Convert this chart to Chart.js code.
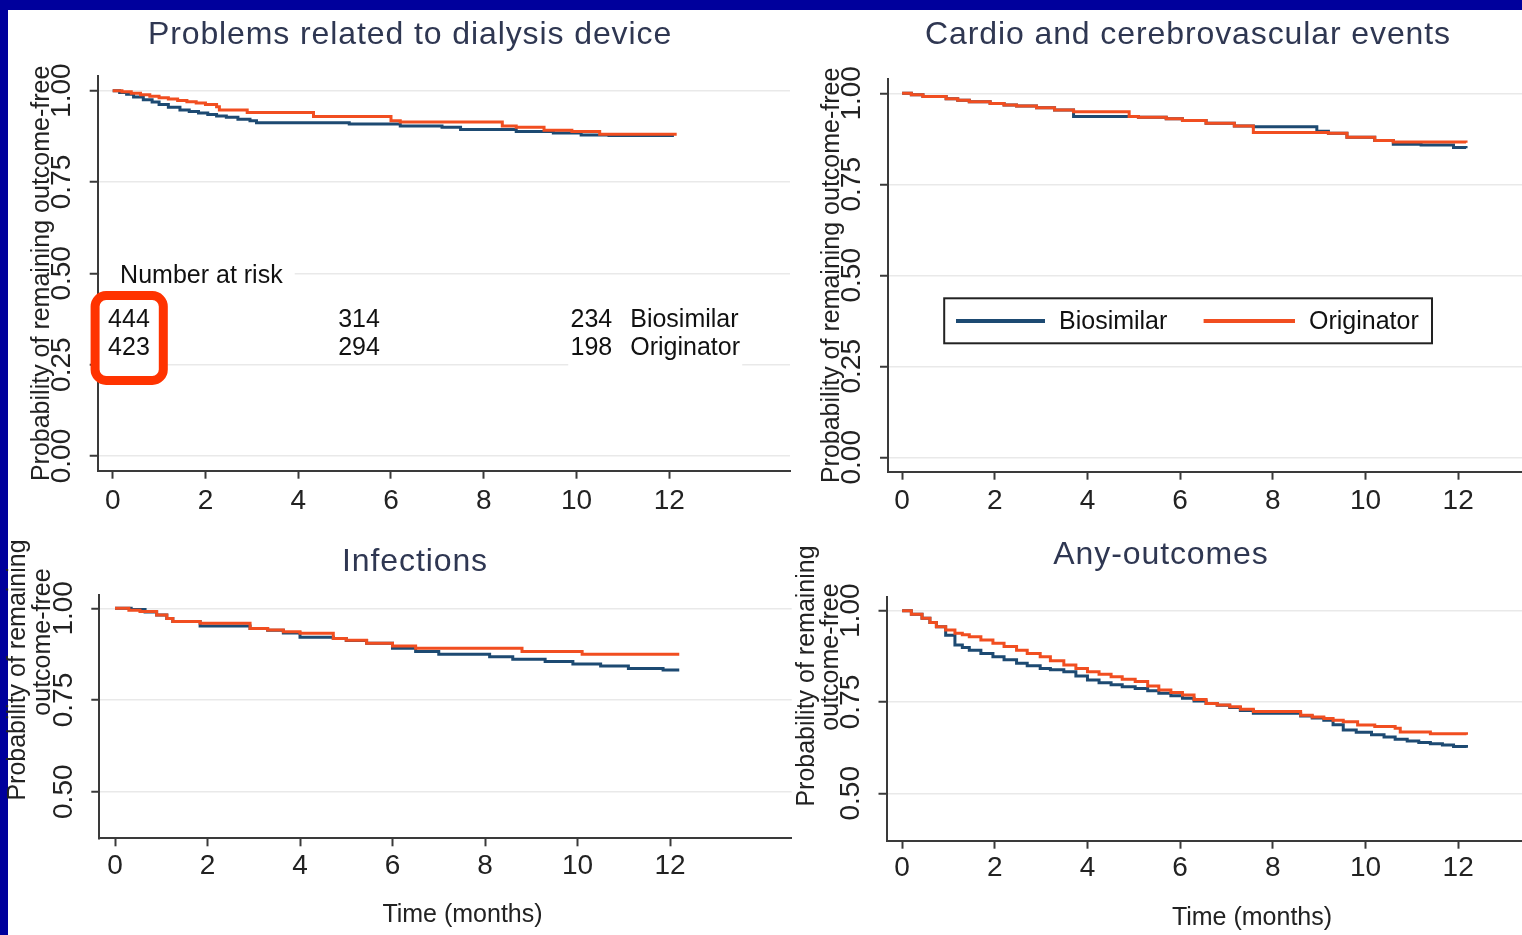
<!DOCTYPE html>
<html>
<head>
<meta charset="utf-8">
<script src="https://cdn.jsdelivr.net/npm/chart.js@4.4.1/dist/chart.umd.min.js"></script>
<style>
html,body{margin:0;padding:0;width:1522px;height:935px;overflow:hidden;background:#00009c;}
#panel{position:absolute;left:8px;top:10px;right:0;bottom:0;background:#ffffff;}
canvas{position:absolute;left:0;top:0;}
</style>
</head>
<body>
<div id="panel"></div>
<canvas id="cTL" width="1700" height="935"></canvas>
<canvas id="cTR" width="1700" height="935"></canvas>
<canvas id="cBL" width="1700" height="935"></canvas>
<canvas id="cBR" width="1700" height="935"></canvas>
<script>
// ---------------- data ----------------
const panelTitles = ['Problems related to dialysis device', 'Cardio and cerebrovascular events', 'Infections', 'Any-outcomes'];
const seriesNames = ['Biosimilar', 'Originator'];
const xTickValues = [0, 2, 4, 6, 8, 10, 12];
const yTicksFull = [0, 0.25, 0.5, 0.75, 1];
const yTicksUpper = [0.5, 0.75, 1];
const yTitleText = 'Probability of remaining outcome-free';
const yTitleLines = ['Probability of remaining', 'outcome-free'];
const xTitleText = 'Time (months)';
const riskHeader = 'Number at risk';
const riskBiosimilar = [444, 314, 234];
const riskOriginator = [423, 294, 198];

const dialysisBioMonths = [0,0.15,0.3,0.45,0.66,0.85,1.0,1.2,1.45,1.65,1.85,2.05,2.24,2.45,2.7,2.96,3.1,5.1,6.2,7.1,7.5,8.7,9.5,10.1,10.7,12.1];
const dialysisBioSurv   = [1.0,0.995,0.99,0.983,0.975,0.969,0.962,0.955,0.947,0.943,0.939,0.935,0.931,0.927,0.922,0.918,0.912,0.909,0.903,0.900,0.894,0.888,0.884,0.879,0.877,0.877];
const dialysisOrigMonths = [0,0.2,0.4,0.6,0.8,1.0,1.2,1.4,1.6,1.8,2.0,2.24,2.3,2.9,4.33,6.0,6.2,8.4,8.7,9.3,9.9,10.5,12.16];
const dialysisOrigSurv   = [1.0,0.997,0.993,0.989,0.985,0.981,0.977,0.973,0.970,0.966,0.962,0.956,0.947,0.940,0.929,0.918,0.914,0.903,0.900,0.892,0.888,0.881,0.881];

const cardioBioMonths = [0,0.2,0.45,0.95,1.2,1.45,1.9,2.2,2.47,2.9,3.29,3.7,5.1,5.7,6.05,6.56,7.17,7.58,8.95,9.2,9.6,10.2,10.6,11.2,11.9,12.17];
const cardioBioSurv   = [1.0,0.996,0.991,0.985,0.981,0.977,0.972,0.968,0.965,0.960,0.954,0.936,0.934,0.930,0.925,0.918,0.910,0.908,0.896,0.890,0.879,0.870,0.860,0.858,0.851,0.849];
const cardioOrigMonths = [0,0.2,0.45,0.95,1.2,1.45,1.9,2.2,2.47,2.9,3.29,3.7,4.9,5.1,5.7,6.05,6.56,7.17,7.58,9.2,9.6,10.2,10.6,12.17];
const cardioOrigSurv   = [1.0,0.996,0.991,0.985,0.981,0.977,0.972,0.968,0.965,0.960,0.954,0.949,0.936,0.934,0.930,0.925,0.918,0.910,0.892,0.890,0.879,0.870,0.866,0.864];

const infBioMonths = [0,0.35,0.65,0.9,1.12,1.25,1.84,2.92,3.3,3.64,4.0,4.72,5.0,5.44,6.0,6.5,7.0,8.1,8.6,9.3,9.9,10.5,11.1,11.85,12.2];
const infBioSurv   = [1.0,0.997,0.990,0.982,0.972,0.964,0.952,0.945,0.940,0.933,0.921,0.918,0.912,0.905,0.891,0.882,0.875,0.868,0.861,0.855,0.848,0.843,0.836,0.832,0.832];
const infOrigMonths = [0,0.3,0.54,0.9,1.12,1.25,1.84,2.92,3.3,3.64,4.0,4.72,5.0,5.44,6.0,6.5,8.8,10.1,12.2];
const infOrigSurv   = [1.0,0.995,0.991,0.982,0.972,0.964,0.959,0.945,0.941,0.936,0.932,0.918,0.913,0.905,0.897,0.891,0.882,0.875,0.875];

const anyBioMonths = [0,0.2,0.43,0.6,0.74,0.94,1.14,1.3,1.45,1.7,1.96,2.2,2.47,2.7,2.98,3.2,3.49,3.75,4.0,4.25,4.51,4.75,5.03,5.3,5.54,5.8,6.05,6.3,6.56,6.8,7.07,7.3,7.58,8.6,8.85,9.1,9.3,9.52,9.8,10.13,10.4,10.64,10.9,11.15,11.4,11.66,11.9,12.18];
const anyBioSurv   = [1.0,0.99,0.979,0.968,0.956,0.933,0.906,0.899,0.892,0.883,0.874,0.866,0.856,0.849,0.842,0.838,0.833,0.821,0.810,0.803,0.797,0.792,0.787,0.781,0.774,0.767,0.760,0.753,0.746,0.741,0.735,0.727,0.719,0.712,0.706,0.700,0.688,0.673,0.667,0.660,0.654,0.648,0.643,0.639,0.636,0.632,0.628,0.625];
const anyOrigMonths = [0,0.2,0.43,0.6,0.74,0.94,1.14,1.3,1.45,1.7,1.96,2.2,2.47,2.7,2.98,3.2,3.49,3.75,4.0,4.25,4.51,4.75,5.03,5.3,5.54,5.8,6.05,6.3,6.56,6.8,7.07,7.3,7.58,8.6,8.85,9.1,9.3,9.52,9.83,10.2,10.64,10.75,11.4,12.18];
const anyOrigSurv   = [1.0,0.99,0.979,0.968,0.956,0.947,0.938,0.934,0.929,0.920,0.911,0.902,0.892,0.883,0.874,0.863,0.851,0.842,0.833,0.826,0.819,0.812,0.806,0.794,0.783,0.776,0.769,0.757,0.746,0.742,0.737,0.730,0.724,0.714,0.709,0.705,0.700,0.696,0.687,0.683,0.678,0.668,0.663,0.660];

// ---------------- styles ----------------
const SANS = '"Liberation Sans", Arial, Helvetica, sans-serif';
const NARROW = '"Liberation Sans Narrow", "Arial Narrow", "Liberation Sans", Arial, sans-serif';
const BLUE = '#1d4a72', ORANGE = '#f14e20', INK = '#222222', TITLE_INK = '#2f3752', AXIS = '#3a3a3a';
Chart.defaults.font.family = SANS;

function txt(ctx, s, x, y, o) {
  ctx.save();
  ctx.font = o.font;
  ctx.fillStyle = o.color || INK;
  ctx.textAlign = o.align || 'left';
  ctx.textBaseline = o.baseline || 'middle';
  if (o.spacing && ('letterSpacing' in ctx)) ctx.letterSpacing = o.spacing;
  ctx.translate(x, y);
  if (o.rotate) ctx.rotate(o.rotate);
  ctx.fillText(s, 0, 0);
  ctx.restore();
}
function roundedPath(ctx, x0, y0, x1, y1, r) {
  ctx.beginPath();
  ctx.moveTo(x0 + r, y0);
  ctx.arcTo(x1, y0, x1, y1, r);
  ctx.arcTo(x1, y1, x0, y1, r);
  ctx.arcTo(x0, y1, x0, y0, r);
  ctx.arcTo(x0, y0, x1, y0, r);
  ctx.closePath();
}
function panelTitle(ctx, s, cx, baseY) {
  txt(ctx, s, cx, baseY, {font: `32px ${SANS}`, color: TITLE_INK, align: 'center', baseline: 'alphabetic', spacing: '0.9px'});
}

function series(label, months, surv, color, order) {
  return {
    label, data: months.map((m, i) => ({x: m, y: surv[i]})),
    borderColor: color, backgroundColor: color, borderWidth: 3,
    pointRadius: 0, pointHoverRadius: 0, stepped: true, fill: false, order
  };
}

function buildChart(id, p) {
  return new Chart(document.getElementById(id), {
    type: 'line',
    data: {datasets: p.datasets},
    options: {
      responsive: false, animation: false, devicePixelRatio: 1,
      layout: {padding: p.pad},
      plugins: {legend: {display: false}, tooltip: {enabled: false}, title: {display: false}},
      scales: {
        x: {
          type: 'linear', min: p.xMin, max: p.xMax,
          afterBuildTicks: s => { s.ticks = xTickValues.map(v => ({value: v})); },
          afterFit: s => { s.height = p.xHeight; },
          grid: {drawOnChartArea: false, drawTicks: true, tickLength: 8, tickColor: AXIS, tickWidth: 2},
          border: {display: true, color: AXIS, width: 2},
          ticks: {font: {family: NARROW, size: 28}, color: INK, padding: p.xPad, maxRotation: 0, minRotation: 0, autoSkip: false, callback: v => String(v)},
          title: p.xTitle ? {display: true, text: p.xTitle, font: {family: SANS, size: 25, lineHeight: 1.2}, color: INK, padding: {top: 0, bottom: p.xTitlePad}} : {display: false}
        },
        y: {
          type: 'linear', min: p.yMin, max: p.yMax,
          afterBuildTicks: s => { s.ticks = p.yTicks.map(v => ({value: v})); },
          afterFit: s => { s.width = p.yWidth; },
          grid: {color: '#e9e9e9', lineWidth: 1.5, drawTicks: true, tickLength: 8, tickColor: AXIS, tickWidth: 2},
          border: {display: true, color: AXIS, width: 2},
          ticks: {font: {family: NARROW, size: 28}, color: INK, padding: 0, minRotation: 90, maxRotation: 90, crossAlign: 'center', autoSkip: false, callback: v => v.toFixed(2)},
          title: p.yTitle ? {display: true, text: p.yTitle, font: {family: SANS, size: 25, lineHeight: 1.2}, color: INK, padding: {top: 0, bottom: 0}} : {display: false}
        }
      }
    },
    plugins: [{id: 'overlay_' + id, afterDraw: chart => { if (p.overlay) p.overlay(chart, chart.ctx); }}]
  });
}

// ---------- Top-left: dialysis device ----------
buildChart('cTL', {
  pad: {left: 26.7, right: 1700 - 790, top: 76, bottom: 935 - 470.7 - 50},
  xMin: -0.3234, xMax: 14.603, yMin: -0.0402, yMax: 1.0402, yTicks: yTicksFull,
  yWidth: 71, xHeight: 50, xPad: 6, yTitle: yTitleText,
  datasets: [series(seriesNames[0], dialysisBioMonths, dialysisBioSurv, BLUE, 1),
             series(seriesNames[1], dialysisOrigMonths, dialysisOrigSurv, ORANGE, 0)],
  overlay: (chart, ctx) => {
    panelTitle(ctx, panelTitles[0], 410, 44);
    const xs = chart.scales.x, ys = chart.scales.y;
    const f = `25px ${SANS}`;
    const cols = [0.80, 5.76, 10.77];
    const rowY = [ys.getPixelForValue(0.372), ys.getPixelForValue(0.296)];
    const headY = ys.getPixelForValue(0.493);
    // white backing behind the risk table texts (hides gridlines like the reference)
    ctx.save();
    ctx.fillStyle = '#ffffff';
    ctx.fillRect(chart.chartArea.left + 2, headY - 13, 195, 26);
    ctx.fillRect(xs.getPixelForValue(cols[2]) - 44, rowY[0] - 14, 174, rowY[1] - rowY[0] + 34);
    ctx.restore();
    txt(ctx, riskHeader, xs.getPixelForValue(0.16), headY, {font: f, color: '#111'});
    ctx.save();
    ctx.font = f;
    const w = ctx.measureText(String(riskBiosimilar[0])).width;
    const xr = xs.getPixelForValue(cols[0]);
    roundedPath(ctx, xr - w - 13, rowY[0] - 24.5, xr + 13.5, rowY[1] + 32.5, 11);
    ctx.fillStyle = '#ffffff'; ctx.fill();
    ctx.lineWidth = 9; ctx.strokeStyle = '#ff3300'; ctx.stroke();
    ctx.restore();
    const rows = [riskBiosimilar, riskOriginator];
    rows.forEach((row, r) => {
      row.forEach((n, c) => txt(ctx, String(n), xs.getPixelForValue(cols[c]), rowY[r], {font: f, color: '#111', align: 'right'}));
      txt(ctx, seriesNames[r], xs.getPixelForValue(cols[2]) + 18, rowY[r], {font: f, color: '#111'});
    });
  }
});

// ---------- Top-right: cardio ----------
buildChart('cTR', {
  pad: {left: 817, right: 100, top: 79, bottom: 935 - 471.7 - 50},
  xMin: -0.3043, xMax: 15.061, yMin: -0.0396, yMax: 1.0393, yTicks: yTicksFull,
  yWidth: 71, xHeight: 50, xPad: 5, yTitle: yTitleText,
  datasets: [series(seriesNames[0], cardioBioMonths, cardioBioSurv, BLUE, 1),
             series(seriesNames[1], cardioOrigMonths, cardioOrigSurv, ORANGE, 0)],
  overlay: (chart, ctx) => {
    panelTitle(ctx, panelTitles[1], 1188, 43.5);
    ctx.save();
    ctx.fillStyle = '#ffffff';
    ctx.fillRect(944.2, 298.3, 1432 - 944.2, 343.3 - 298.3);
    ctx.lineWidth = 2; ctx.strokeStyle = '#222';
    ctx.strokeRect(944.2, 298.3, 1432 - 944.2, 343.3 - 298.3);
    const ds = chart.data.datasets;
    const items = [{x0: 956, x1: 1045, tx: 1059}, {x0: 1203.6, x1: 1295, tx: 1309}];
    items.forEach((it, i) => {
      ctx.beginPath(); ctx.moveTo(it.x0, 321); ctx.lineTo(it.x1, 321);
      ctx.lineWidth = 4; ctx.strokeStyle = ds[i].borderColor; ctx.stroke();
      txt(ctx, ds[i].label, it.tx, 322, {font: `25px ${SANS}`, color: '#111'});
    });
    ctx.restore();
  }
});

// ---------- Bottom-left: infections ----------
buildChart('cBL', {
  pad: {left: 28.3, right: 1700 - 791.7, top: 595, bottom: 935 - 838.3 - 50},
  xMin: -0.3395, xMax: 14.631, yMin: 0.3730, yMax: 1.0363, yTicks: yTicksUpper,
  yWidth: 71, xHeight: 50, xPad: 3.6,
  datasets: [series(seriesNames[0], infBioMonths, infBioSurv, BLUE, 1),
             series(seriesNames[1], infOrigMonths, infOrigSurv, ORANGE, 0)],
  overlay: (chart, ctx) => {
    panelTitle(ctx, panelTitles[2], 415, 570.5);
    const f = `25px ${SANS}`;
    txt(ctx, yTitleLines[0], 18, 670, {font: f, align: 'center', rotate: -Math.PI / 2});
    txt(ctx, yTitleLines[1], 43, 642, {font: f, align: 'center', rotate: -Math.PI / 2});
    txt(ctx, xTitleText, 462.5, 915, {font: f, align: 'center'});
  }
});

// ---------- Bottom-right: any outcomes ----------
buildChart('cBR', {
  pad: {left: 815.5, right: 1700 - 1617.5, top: 597.3, bottom: 0},
  xMin: -0.3366, xMax: 15.438, yMin: 0.3702, yMax: 1.0367, yTicks: yTicksUpper,
  yWidth: 71, xHeight: 935 - 840.7, xPad: 2.5, xTitle: xTitleText, xTitlePad: 2,
  datasets: [series(seriesNames[0], anyBioMonths, anyBioSurv, BLUE, 1),
             series(seriesNames[1], anyOrigMonths, anyOrigSurv, ORANGE, 0)],
  overlay: (chart, ctx) => {
    panelTitle(ctx, panelTitles[3], 1161, 563.5);
    const f = `25px ${SANS}`;
    txt(ctx, yTitleLines[0], 807, 676, {font: f, align: 'center', rotate: -Math.PI / 2});
    txt(ctx, yTitleLines[1], 831, 657, {font: f, align: 'center', rotate: -Math.PI / 2});
  }
});
</script>
</body>
</html>
